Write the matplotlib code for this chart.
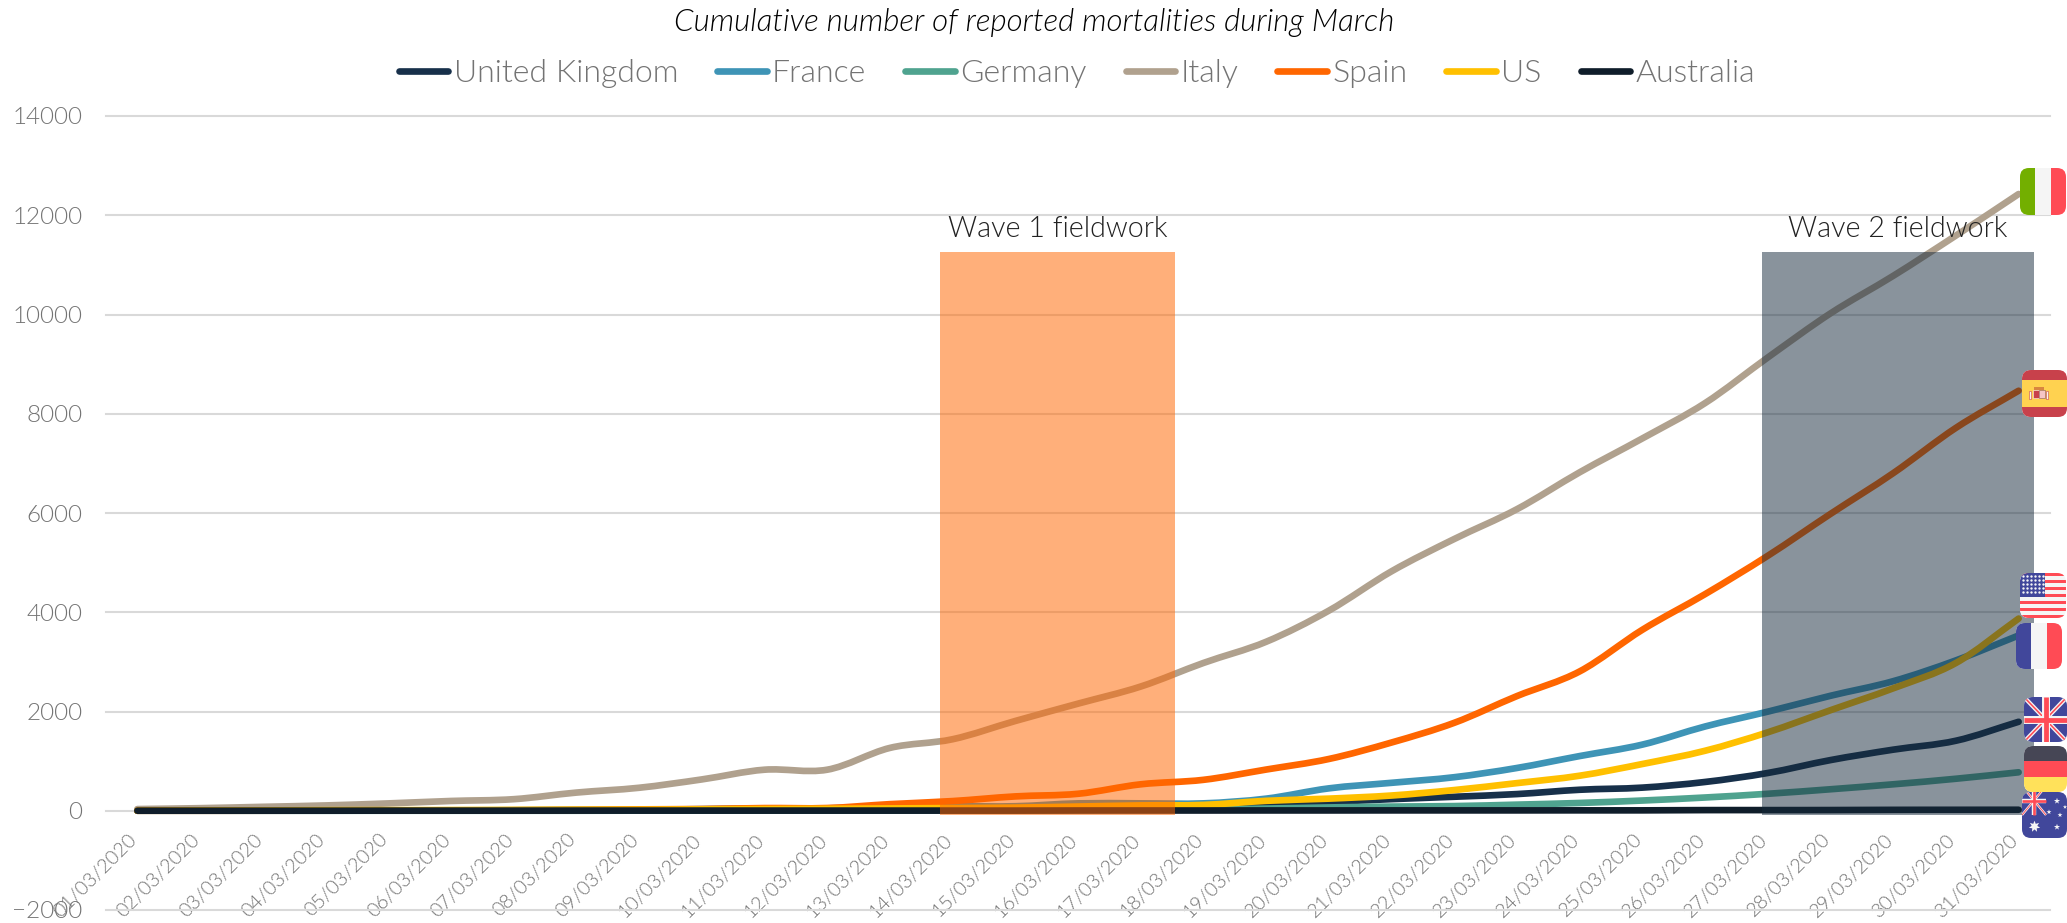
import numpy as np
import matplotlib
matplotlib.use('Agg')
import matplotlib.pyplot as plt
from matplotlib.lines import Line2D
from matplotlib.path import Path
from matplotlib.patches import PathPatch, Rectangle, FancyBboxPatch
from matplotlib.transforms import ScaledTranslation

plt.rcParams['font.family'] = ['Lato', 'DejaVu Sans']

dates = ['%02d/03/2020' % d for d in range(1, 32)]

united_kingdom = [2, 2, 3, 3, 5, 6, 7, 7, 7, 8, 8, 8, 8, 21, 21, 56, 56, 72, 138, 178, 234, 282, 336, 423, 466, 580, 761, 1021, 1231, 1411, 1793]
france = [2, 3, 4, 4, 6, 9, 11, 19, 19, 33, 48, 48, 79, 91, 91, 149, 149, 149, 244, 451, 563, 676, 862, 1102, 1333, 1698, 1997, 2317, 2611, 3030, 3532]
germany = [0, 0, 0, 0, 0, 0, 0, 0, 2, 2, 3, 3, 7, 9, 11, 17, 24, 28, 44, 67, 84, 94, 123, 157, 206, 267, 342, 433, 533, 645, 775]
italy = [34, 52, 79, 107, 148, 197, 233, 366, 463, 631, 827, 827, 1266, 1441, 1809, 2158, 2503, 2978, 3405, 4032, 4825, 5476, 6077, 6820, 7503, 8215, 9134, 10023, 10779, 11591, 12428]
spain = [0, 0, 1, 2, 3, 5, 10, 17, 28, 35, 54, 55, 133, 195, 289, 342, 533, 623, 830, 1043, 1375, 1772, 2311, 2808, 3647, 4365, 5138, 5982, 6803, 7716, 8464]
us = [1, 6, 7, 11, 12, 14, 17, 21, 22, 28, 36, 40, 47, 54, 63, 85, 108, 118, 200, 244, 307, 417, 557, 706, 942, 1209, 1581, 2026, 2467, 2978, 3873]
australia = [1, 1, 1, 1, 2, 2, 2, 3, 3, 3, 3, 3, 3, 3, 3, 5, 5, 5, 6, 6, 7, 7, 7, 8, 8, 13, 13, 14, 18, 19, 20]

series_names = ['United Kingdom', 'France', 'Germany', 'Italy', 'Spain', 'US', 'Australia']
series_values = [united_kingdom, france, germany, italy, spain, us, australia]
series_colors = ['#17304A', '#3E94B6', '#4FA38F', '#B0A18E', '#FF6600', '#FFC000', '#0F1D2A']

y_ticks = list(range(-2000, 16000, 2000))

W, H = 2067, 923
GREY = '#737373'
LIGHT = 300


def smooth_path(values):
    # same kind of curve as a smoothed Excel line
    n = len(values)
    verts = [(0, values[0])]
    codes = [Path.MOVETO]
    for i in range(n - 1):
        p1 = values[i]
        p2 = values[i + 1]
        p0 = values[i - 1] if i > 0 else 2 * p1 - p2
        p3 = values[i + 2] if i + 2 < n else 2 * p2 - p1
        verts += [(i + 1 / 3, p1 + (p2 - p0) / 6), (i + 2 / 3, p2 - (p3 - p1) / 6), (i + 1, p2)]
        codes += [Path.CURVE4] * 3
    return Path(verts, codes)


fig = plt.figure(figsize=(W / 100, H / 100), dpi=100)
ax = fig.add_axes([106 / W, 1 - 910 / H, (2050 - 106) / W, (910 - 116) / H])
ax.set_xlim(-0.5, 30.5)
ax.set_ylim(-2000, 14000)

for side in ['top', 'right', 'left', 'bottom']:
    ax.spines[side].set_visible(False)
# date labels hang off the zero line; this resets the ticks so it goes first
ax.spines['bottom'].set_position(('data', 0))

for name, values, color in zip(series_names, series_values, series_colors):
    ax.add_patch(PathPatch(smooth_path(values), fill=False, edgecolor=color, linewidth=4.8,
                           capstyle='round', joinstyle='round', zorder=3, label=name))

ax.set_yticks(y_ticks)
ax.set_xticks(range(len(dates)))
ax.set_xticklabels(dates, rotation=45, ha='right', va='bottom', rotation_mode='anchor',
                   fontsize=14.2, fontweight=LIGHT, color=GREY)
ax.tick_params(axis='x', length=0, pad=23)
ax.tick_params(axis='y', length=0, pad=17, labelsize=17.5, labelcolor=GREY)
for label in ax.get_xticklabels():
    label.set_transform(label.get_transform() + ScaledTranslation(0.03, 0, fig.dpi_scale_trans))
for label in ax.get_yticklabels():
    label.set_fontweight(LIGHT)
ax.grid(axis='y', color='#D9D9D9', linewidth=1.5, zorder=1)
for gridline in ax.get_ygridlines():
    gridline.set_clip_on(False)
ax.set_axisbelow(True)

# fieldwork windows
ax.add_patch(Rectangle((12.8, -80), 3.75, 11340, facecolor='#FF6600', alpha=0.52, linewidth=0, zorder=4))
ax.add_patch(Rectangle((25.9, -80), 4.34, 11340, facecolor='#15293B', alpha=0.5, linewidth=0, zorder=4))
ax.text(14.675, 11720, 'Wave 1 fieldwork', ha='center', va='center', fontsize=20.6,
        fontweight=LIGHT, color='#222222', zorder=5)
ax.text(28.07, 11720, 'Wave 2 fieldwork', ha='center', va='center', fontsize=20.6,
        fontweight=LIGHT, color='#222222', zorder=5)

fig.text(1034 / W, 1 - 22.5 / H, 'Cumulative number of reported mortalities during March', ha='center',
         va='center', fontsize=22.5, style='italic', fontweight=LIGHT, color='black')

handles = [Line2D([], [], color=c, linewidth=4.8, solid_capstyle='round') for c in series_colors]
fig.legend(handles, series_names, loc='center', bbox_to_anchor=(1077 / W, 1 - 73.5 / H), ncol=7,
           frameon=False, handlelength=1.55, handletextpad=0.17, columnspacing=1.22,
           borderpad=0, prop={'size': 23, 'weight': LIGHT}, labelcolor=GREY)

# flags on a pixel overlay
ov = fig.add_axes([0, 0, 1, 1], zorder=10)
ov.set_xlim(0, W)
ov.set_ylim(H, 0)
ov.axis('off')
ov.patch.set_alpha(0)


def flag_box(x0, y0, x1, y1):
    box = FancyBboxPatch((x0 + 8, y0 + 8), x1 - x0 - 16, y1 - y0 - 16,
                         boxstyle='round,pad=8,rounding_size=9', linewidth=0,
                         facecolor='white', zorder=11)
    ov.add_patch(box)
    return box


def fill(box, x, y, w, h, color, zorder=12):
    r = Rectangle((x, y), w, h, facecolor=color, linewidth=0, zorder=zorder)
    ov.add_patch(r)
    r.set_clip_path(box)


def stripe(box, x0, y0, x1, y1, color, lw, zorder=12):
    line, = ov.plot([x0, x1], [y0, y1], color=color, linewidth=lw, zorder=zorder, solid_capstyle='butt')
    line.set_clip_path(box)


def vertical_flag(x0, y0, x1, y1, colors):
    box = flag_box(x0, y0, x1, y1)
    w = (x1 - x0) / 3
    for i, c in enumerate(colors):
        fill(box, x0 + i * w, y0, w + 0.5, y1 - y0, c)


def horizontal_flag(x0, y0, x1, y1, colors, fracs):
    box = flag_box(x0, y0, x1, y1)
    y = y0
    for c, f in zip(colors, fracs):
        fill(box, x0, y, x1 - x0, (y1 - y0) * f + 0.5, c)
        y += (y1 - y0) * f
    return box


def union_jack(box, x0, y0, x1, y1, zorder=13):
    cx, cy = (x0 + x1) / 2, (y0 + y1) / 2
    scale = (x1 - x0) / 45
    for a, b in [((x0, y0), (x1, y1)), ((x0, y1), (x1, y0))]:
        stripe(box, a[0], a[1], b[0], b[1], '#F5F5F5', 3.2 * scale, zorder)
        stripe(box, a[0], a[1], b[0], b[1], '#FF4B55', 1.2 * scale, zorder)
    stripe(box, x0, cy, x1, cy, '#F5F5F5', 6 * scale, zorder)
    stripe(box, cx, y0, cx, y1, '#F5F5F5', 6 * scale, zorder)
    stripe(box, x0, cy, x1, cy, '#FF4B55', 3.6 * scale, zorder)
    stripe(box, cx, y0, cx, y1, '#FF4B55', 3.6 * scale, zorder)


# Italy
vertical_flag(2020, 168, 2066, 215, ['#73AF00', '#F5F5F5', '#FF4B55'])

# Spain
horizontal_flag(2022, 370, 2067, 417, ['#C8414B', '#FFD250', '#C8414B'], [0.22, 0.56, 0.22])
ov.add_patch(Rectangle((2033, 390), 6, 8, facecolor='#C8414B', linewidth=0.4, edgecolor='#F5F5F5', zorder=13))
ov.add_patch(Rectangle((2039, 390), 6, 8, facecolor='#F5C6C6', linewidth=0.4, edgecolor='#8A5A5A', zorder=13))
ov.add_patch(Rectangle((2029, 391), 2, 8, facecolor='#F5F5F5', linewidth=0.4, edgecolor='#C8414B', zorder=13))
ov.add_patch(Rectangle((2046, 391), 2, 8, facecolor='#F5F5F5', linewidth=0.4, edgecolor='#C8414B', zorder=13))
ov.add_patch(Rectangle((2034, 387), 10, 3, facecolor='#D9863F', linewidth=0, zorder=13))

# US
box = flag_box(2020, 573, 2066, 618)
fill(box, 2020, 573, 46, 45, '#F5F5F5')
for i in range(7):
    fill(box, 2020, 573 + i * 45 / 6.5, 46, 45 / 13, '#FF4B55')
fill(box, 2020, 573, 25, 24, '#41479B', 13)
sx, sy = np.meshgrid(np.arange(2023, 2044, 4), np.arange(576, 596, 4))
stars = ov.scatter(sx, sy, s=3, color='#F5F5F5', linewidths=0, zorder=14)
stars.set_clip_path(box)

# France
vertical_flag(2016, 623, 2062, 669, ['#41479B', '#F5F5F5', '#FF4B55'])

# UK
box = flag_box(2024, 697, 2067, 742)
fill(box, 2024, 697, 43, 45, '#41479B')
union_jack(box, 2024, 697, 2067, 742)

# Germany
horizontal_flag(2024, 746, 2067, 792, ['#464655', '#FF4B55', '#FFE15A'], [1 / 3, 1 / 3, 1 / 3])

# Australia
box = flag_box(2022, 792, 2067, 838)
fill(box, 2022, 792, 45, 46, '#41479B')
union_jack(box, 2022, 786, 2046, 815, 14)
ov.scatter([2034], [826], s=70, marker=(7, 1), color='#F5F5F5', linewidths=0, zorder=15)
ov.scatter([2057, 2049, 2060, 2057, 2065], [801, 812, 815, 827, 807], s=[22, 14, 14, 22, 10],
           marker='*', color='#F5F5F5', linewidths=0, zorder=15)

fig.savefig('out.png', dpi=100)
